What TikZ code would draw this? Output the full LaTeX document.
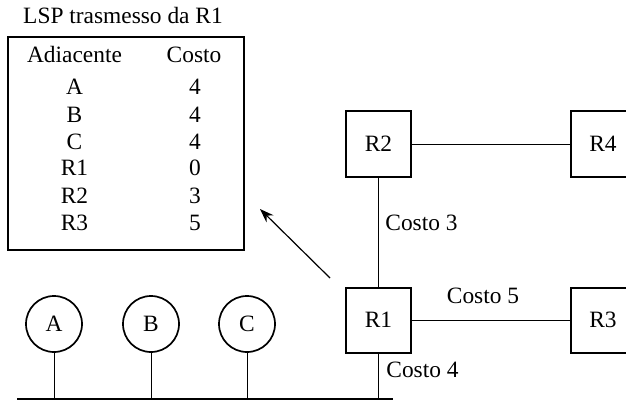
\documentclass[tikz,border=0pt]{standalone}
\usepackage{fontspec}
\setmainfont{Liberation Serif}
\usetikzlibrary{arrows.meta}
\begin{document}
\begin{tikzpicture}[x=0.5pt,y=-0.5pt,
  every node/.style={font=\fontsize{11.7}{14}\selectfont},
  router/.style={draw,line width=1pt,minimum size=32.5pt,inner sep=0pt},
  host/.style={draw,circle,line width=0.85pt,minimum size=28pt,inner sep=0pt},
  link/.style={line width=0.5pt},
  lbl/.style={inner sep=0pt},
  cell/.style={anchor=base,inner sep=0pt}]
\useasboundingbox (0,0) rectangle (626,401);
% title and table
\node[cell] (title) at (123,23.5) {LSP trasmesso da R1};
\node[draw,line width=0.75pt,minimum width=118pt,minimum height=106.5pt,inner sep=0pt] (lsp) at (126,143.5) {};
\node[cell] (h1) at (74.5,63) {Adiacente};
\node[cell] (h2) at (194,63) {Costo};
\node[cell] (a1) at (74.5,95) {A};   \node[cell] (a2) at (195,95) {4};
\node[cell] (b1) at (74.5,122) {B};  \node[cell] (b2) at (195,122) {4};
\node[cell] (c1) at (74.5,149) {C};  \node[cell] (c2) at (195,149) {4};
\node[cell] (d1) at (74.5,176) {R1}; \node[cell] (d2) at (195,176) {0};
\node[cell] (e1) at (74.5,203) {R2}; \node[cell] (e2) at (195,203) {3};
\node[cell] (f1) at (74.5,230) {R3}; \node[cell] (f2) at (195,230) {5};
% routers
\node[router] (r1) at (378.5,320) {R1};
\node[router] (r2) at (378.5,144) {R2};
\node[router] (r3) at (603,320) {R3};
\node[router] (r4) at (603,144) {R4};
% hosts
\node[host] (A) at (54,324) {A};
\node[host] (B) at (151,324) {B};
\node[host] (C) at (247,324) {C};
% bus
\coordinate (busL) at (17,399);
\coordinate (busR) at (393,399);
\draw[line width=0.85pt] (busL) -- (busR);
\draw[link] (A.south) -- (A.south |- busL);
\draw[link] (B.south) -- (B.south |- busL);
\draw[link] (C.south) -- (C.south |- busL);
\draw[link] (r1.south) -- (r1.south |- busL);
% links
\draw[link] (r2) -- (r4);
\draw[link] (r1) -- (r3);
\draw[link] (r1) -- (r2);
% labels
\node[lbl,anchor=west] (l3) at (385,223) {Costo 3};
\node[lbl] (l5) at (483,296) {Costo 5};
\node[lbl,anchor=west] (l4) at (386,370) {Costo 4};
% arrow
\coordinate (arS) at (330,278);
\coordinate (arE) at (260,209);
\draw[line width=0.6pt,-{Stealth[length=7pt,width=5pt]}] (arS) -- (arE);
\end{tikzpicture}
\end{document}
